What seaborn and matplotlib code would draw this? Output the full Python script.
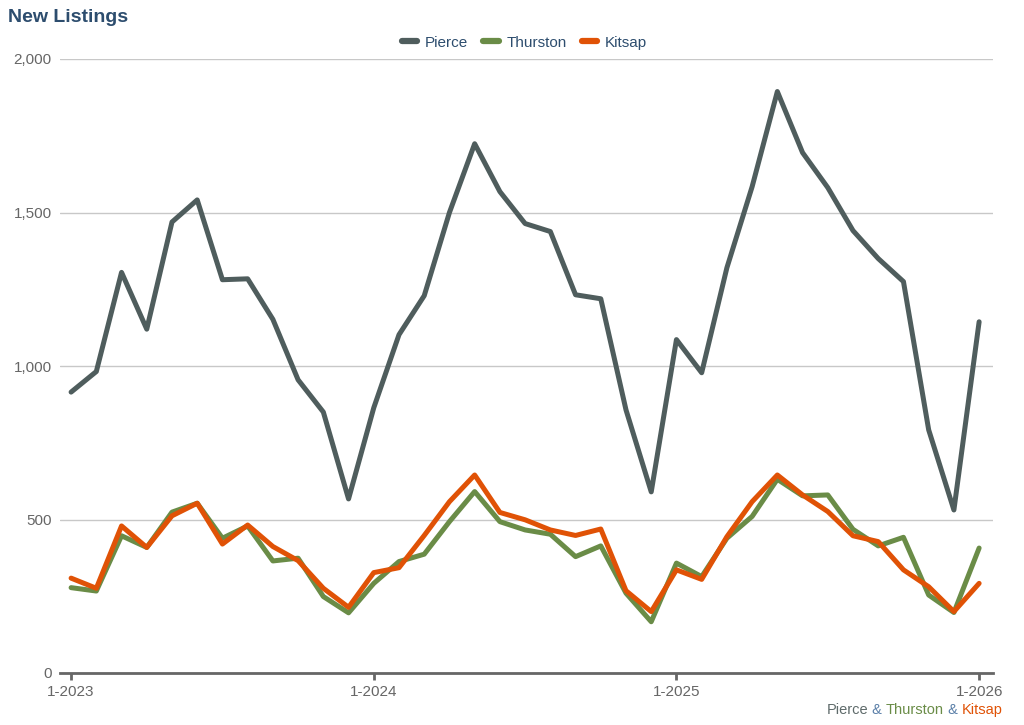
import pandas as pd
import matplotlib.pyplot as plt
import matplotlib.ticker as mticker
import seaborn as sns

# Monthly new listings, 1-2023 .. 1-2026
months = list(range(37))
tick_pos = [0, 12, 24, 36]
tick_labels = ["1-2023", "1-2024", "1-2025", "1-2026"]

pierce = [915, 982, 1305, 1120, 1469, 1541, 1281, 1284, 1152, 955, 850, 567,
          864, 1102, 1229, 1500, 1724, 1568, 1464, 1438, 1232, 1219, 857, 590,
          1086, 978, 1320, 1584, 1894, 1695, 1581, 1441, 1350, 1275, 792, 531,
          1144]
thurston = [278, 267, 447, 409, 524, 553, 439, 479, 365, 374, 249, 196,
            292, 363, 387, 493, 591, 493, 466, 452, 379, 414, 260, 167,
            358, 314, 439, 510, 631, 577, 580, 468, 414, 442, 254, 197,
            407]
kitsap = [309, 276, 479, 409, 512, 553, 420, 482, 412, 366, 276, 214,
          327, 343, 448, 558, 645, 523, 499, 466, 448, 469, 268, 200,
          336, 305, 444, 558, 645, 580, 526, 447, 428, 336, 281, 200,
          292]

series = ["Pierce", "Thurston", "Kitsap"]
colors = {"Pierce": "#4f5d5d", "Thurston": "#6a8c47", "Kitsap": "#e05206"}

df = pd.DataFrame({"month": months * 3,
                   "value": pierce + thurston + kitsap,
                   "county": sum([[s] * len(months) for s in series], [])})

sns.set_style("white")
plt.rcParams['font.family'] = ['Liberation Sans', 'DejaVu Sans']

fig = plt.figure(figsize=(10.24, 7.25), dpi=100)
ax = fig.add_axes([60 / 1024, 52 / 725, 933 / 1024, 614 / 725])

sns.lineplot(data=df, x="month", y="value", hue="county", hue_order=series,
             palette=colors, linewidth=3.6, ax=ax, legend=False)

ax.set_xlim(-0.44, 36.55)
ax.set_ylim(0, 2000)
ax.set_yticks([0, 500, 1000, 1500, 2000])
ax.yaxis.set_major_formatter(mticker.FuncFormatter(lambda v, p: f"{int(v):,}"))
ax.grid(axis="y", color="#c8c8c8", linewidth=1.0)
ax.set_axisbelow(True)
ax.set_xticks(tick_pos)
ax.set_xticklabels(tick_labels)
ax.set_xlabel("")
ax.set_ylabel("")
ax.tick_params(axis="y", length=0, labelsize=11, labelcolor="#666666", pad=6)
ax.tick_params(axis="x", length=5, width=2, color="#666666", labelsize=11,
               labelcolor="#666666", pad=4, bottom=True)
for side in ["top", "right", "left"]:
    ax.spines[side].set_visible(False)
ax.spines["bottom"].set_color("#666666")
ax.spines["bottom"].set_linewidth(2)

# legend
handles = [plt.Line2D([], [], color=colors[s], linewidth=4.5) for s in series]
leg = fig.legend(handles, series, loc="center", bbox_to_anchor=(0.512, 0.941),
                 ncol=3, frameon=False, fontsize=11, handlelength=1.0,
                 columnspacing=1.0, handletextpad=0.5)
for t in leg.get_texts():
    t.set_color("#2d4d6e")

fig.text(8 / 1024, 1 - 18 / 725, "New Listings", fontsize=14, fontweight="bold",
         color="#2d4d6e", va="center", ha="left")

# bottom-right caption in series colours
parts = [("Kitsap", "#e05206"), (" & ", "#5a7fa8"), ("Thurston", "#6a8c47"),
         (" & ", "#5a7fa8"), ("Pierce", "#5f6b6b")]
fig.canvas.draw()
renderer = fig.canvas.get_renderer()
x = 1003 / 1024
for txt, col in parts:
    t = fig.text(x, 1 - 710 / 725, txt, fontsize=10.5, color=col, ha="right", va="center")
    bb = t.get_window_extent(renderer=renderer)
    x -= bb.width / fig.bbox.width

fig.savefig("out.png", dpi=100)
